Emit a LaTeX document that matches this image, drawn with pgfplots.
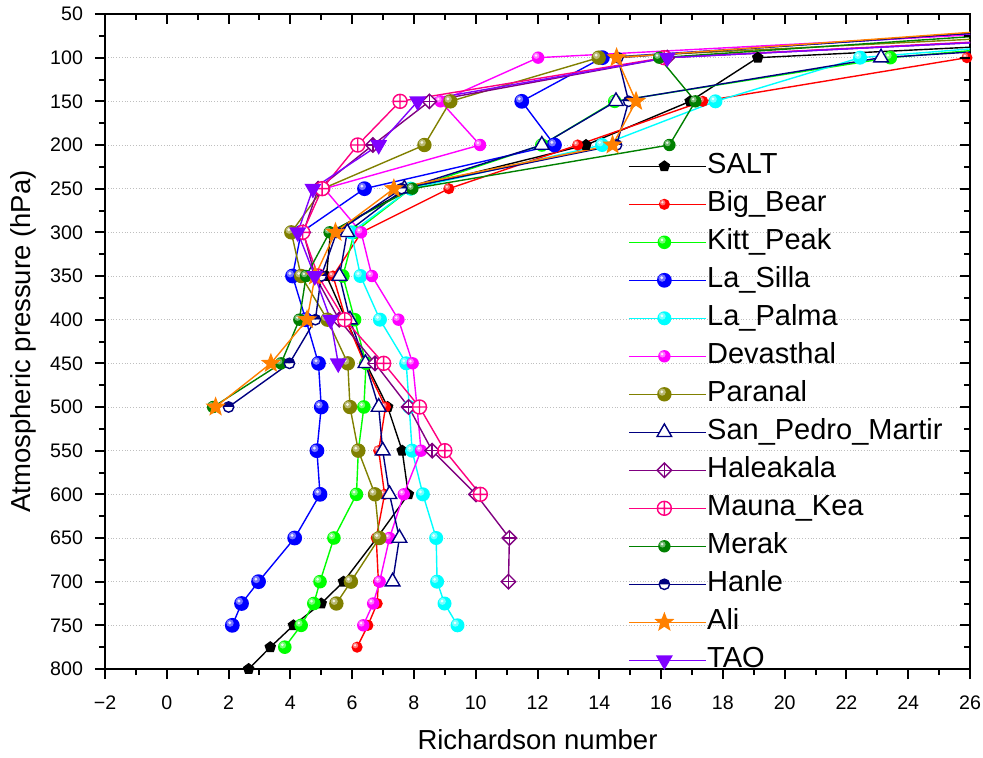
\documentclass[border=0pt]{standalone}
\usepackage{fontspec}
\setmainfont{Liberation Sans}
\usepackage{pgfplots}
\pgfplotsset{compat=1.18}
\usetikzlibrary{plotmarks}

\definecolor{cOlive}{HTML}{808000}
\definecolor{cNavy}{HTML}{000080}
\definecolor{cPurple}{HTML}{800080}
\definecolor{cPink}{HTML}{FF0080}
\definecolor{cDGreen}{HTML}{008000}
\definecolor{cOrange}{HTML}{FF8000}
\definecolor{cViolet}{HTML}{8000FF}
\definecolor{cGreen}{HTML}{00FF00}
\definecolor{cCyan}{HTML}{00FFFF}
\definecolor{cMag}{HTML}{FF00FF}

\pgfdeclareplotmark{fstar}{%
 \pgfpathmoveto{\pgfpointpolar{90}{\pgfplotmarksize}}%
 \pgfpathlineto{\pgfpointpolar{126}{0.42\pgfplotmarksize}}%
 \pgfpathlineto{\pgfpointpolar{162}{\pgfplotmarksize}}%
 \pgfpathlineto{\pgfpointpolar{198}{0.42\pgfplotmarksize}}%
 \pgfpathlineto{\pgfpointpolar{234}{\pgfplotmarksize}}%
 \pgfpathlineto{\pgfpointpolar{270}{0.42\pgfplotmarksize}}%
 \pgfpathlineto{\pgfpointpolar{306}{\pgfplotmarksize}}%
 \pgfpathlineto{\pgfpointpolar{342}{0.42\pgfplotmarksize}}%
 \pgfpathlineto{\pgfpointpolar{18}{\pgfplotmarksize}}%
 \pgfpathlineto{\pgfpointpolar{54}{0.42\pgfplotmarksize}}%
 \pgfpathclose\pgfusepathqfillstroke}

\pgfdeclareplotmark{dplus}{%
 \pgfpathmoveto{\pgfqpoint{0pt}{\pgfplotmarksize}}%
 \pgfpathlineto{\pgfqpoint{\pgfplotmarksize}{0pt}}%
 \pgfpathlineto{\pgfqpoint{0pt}{-\pgfplotmarksize}}%
 \pgfpathlineto{\pgfqpoint{-\pgfplotmarksize}{0pt}}%
 \pgfpathclose\pgfusepathqfillstroke
 \pgfpathmoveto{\pgfqpoint{0pt}{\pgfplotmarksize}}\pgfpathlineto{\pgfqpoint{0pt}{-\pgfplotmarksize}}%
 \pgfpathmoveto{\pgfqpoint{\pgfplotmarksize}{0pt}}\pgfpathlineto{\pgfqpoint{-\pgfplotmarksize}{0pt}}%
 \pgfusepathqstroke}

% glossy ball: filled circle with a white highlight
\pgfdeclareplotmark{gball}{%
 \pgfpathcircle{\pgfpointorigin}{\pgfplotmarksize}%
 \pgfusepathqfill
 \pgfscope
 \pgfsetfillcolor{white}\pgfsetfillopacity{0.45}%
 \pgfpathcircle{\pgfqpoint{-0.3\pgfplotmarksize}{0.3\pgfplotmarksize}}{0.5\pgfplotmarksize}%
 \pgfusepathqfill
 \pgfsetfillopacity{0.85}%
 \pgfpathcircle{\pgfqpoint{-0.35\pgfplotmarksize}{0.35\pgfplotmarksize}}{0.22\pgfplotmarksize}%
 \pgfusepathqfill
 \endpgfscope}

\begin{document}
\begin{tikzpicture}
\begin{axis}[name=ax,
  scale only axis, width=432.5pt, height=327.5pt,
  xmin=-2, xmax=26, ymin=50, ymax=800, y dir=reverse,
  xtick={-2,0,...,26},
  xticklabels={−2,0,2,4,6,8,10,12,14,16,18,20,22,24,26},
  ytick={50,100,...,800},
  minor x tick num=1, minor y tick num=1,
  tick align=outside,
  xtick pos=left, ytick pos=left,
  major tick length=5pt, minor tick length=3pt,
  every tick/.style={black, line width=1pt},
  axis line style={line width=1pt},
  ymajorgrids, major grid style={densely dotted, gray!50, line width=0.5pt},
  /pgf/number format/assume math mode=true,
  tick label style={font=\fontsize{9.8}{11}\selectfont},
  xticklabel style={yshift=-5pt},
  yticklabel style={xshift=-2.5pt},
  label style={font=\fontsize{13.75}{16}\selectfont},
  xlabel style={yshift=-3pt},
  xlabel={Richardson number},
  ylabel={Atmospheric pressure (hPa)},
  legend style={at={(0.6046,0.791)}, anchor=north west, draw=none, fill=none,
    inner sep=0pt, row sep=4pt, font=\fontsize{14.5}{17}\selectfont,
    nodes={text height=11pt, text depth=4pt, inner sep=0pt, outer sep=0pt}},
  legend cell align=left,
  legend image code/.code={\path (0cm,0cm) -- (1.36cm,0cm);\draw[mark repeat=2,mark phase=2,#1] plot coordinates {(0cm,0cm) (0.62cm,0cm) (1.24cm,0cm)};},
  every axis plot/.append style={line width=0.7pt},
]
% SALT
\addplot[color=black, mark=pentagon*, mark size=2.6pt] coordinates {
(47.8,50) (19.13,100) (16.94,150) (13.57,200) (7.85,250) (5.3,300) (5.17,350) (5.8,400) (6.45,450) (7.15,500) (7.62,550) (7.82,600) (6.8,650) (5.72,700) (5.0,725) (4.1,750) (3.35,775) (2.65,800)};
\addlegendentry{SALT}
% Big_Bear
\addplot[color=red, mark=gball, mark size=2.8pt, mark options={fill=red}] coordinates {
(60,50) (25.9,100) (17.35,150) (13.3,200) (9.13,250) (6.3,300) (5.38,350) (5.8,400) (6.4,450) (7.08,500) (6.86,550) (7.05,600) (6.78,650) (6.85,700) (6.81,725) (6.51,750) (6.16,775)};
\addlegendentry{Big\_Bear}
% Kitt_Peak
\addplot[color=cGreen, mark=gball, mark size=3.4pt, mark options={fill=cGreen}] coordinates {
(39.5,50) (23.42,100) (14.5,150) (12.14,200) (7.9,250) (6.07,300) (5.7,350) (6.08,400) (6.45,450) (6.38,500) (6.2,550) (6.14,600) (5.41,650) (4.96,700) (4.76,725) (4.35,750) (3.82,775)};
\addlegendentry{Kitt\_Peak}
% La_Silla
\addplot[color=blue, mark=gball, mark size=3.7pt, mark options={fill=blue}] coordinates {
(36.1,50) (14.1,100) (11.49,150) (12.55,200) (6.40,250) (4.35,300) (4.07,350) (4.5,400) (4.91,450) (5.0,500) (4.86,550) (4.96,600) (4.14,650) (2.97,700) (2.42,725) (2.12,750)};
\addlegendentry{La\_Silla}
% La_Palma
\addplot[color=cCyan, mark=gball, mark size=3.5pt, mark options={fill=cCyan}] coordinates {
(40.2,50) (22.44,100) (17.76,150) (14.09,200) (7.9,250) (5.97,300) (6.27,350) (6.9,400) (7.75,450) (7.85,500) (7.94,550) (8.29,600) (8.72,650) (8.75,700) (8.99,725) (9.41,750)};
\addlegendentry{La\_Palma}
% Devasthal
\addplot[color=cMag, mark=gball, mark size=3.1pt, mark options={fill=cMag}] coordinates {
(38.9,50) (12.02,100) (8.86,150) (10.14,200) (5.1,250) (6.29,300) (6.64,350) (7.5,400) (7.96,450) (8.1,500) (8.23,550) (7.67,600) (7.21,650) (6.89,700) (6.68,725) (6.36,750)};
\addlegendentry{Devasthal}
% Paranal
\addplot[color=cOlive, mark=gball, mark size=3.6pt, mark options={fill=cOlive}] coordinates {
(42.6,50) (13.98,100) (9.18,150) (8.34,200) (5.05,250) (4.03,300) (4.35,350) (5.2,400) (5.86,450) (5.93,500) (6.2,550) (6.74,600) (6.88,650) (5.96,700) (5.49,725)};
\addlegendentry{Paranal}
% San_Pedro_Martir
\addplot[color=cNavy, mark=triangle*, mark size=4.2pt, mark options={fill=white}] coordinates {
(45.6,50) (23.12,100) (14.54,150) (12.14,200) (7.69,250) (5.84,300) (5.59,350) (5.93,400) (6.43,450) (6.86,500) (6.99,550) (7.21,600) (7.53,650) (7.31,700)};
\addlegendentry{San\_Pedro\_Martir}
% Haleakala
\addplot[color=cPurple, mark=dplus, mark size=3.6pt, mark options={fill=white}] coordinates {
(45,50) (16.2,100) (8.5,150) (6.67,200) (4.9,250) (4.42,300) (4.8,350) (5.58,400) (6.74,450) (7.83,500) (8.59,550) (10.01,600) (11.09,650) (11.06,700)};
\addlegendentry{Haleakala}
% Mauna_Kea
\addplot[color=cPink, mark=oplus*, mark size=3.5pt, mark options={fill=white}] coordinates {
(44,50) (16.1,100) (7.55,150) (6.18,200) (5.03,250) (4.4,300) (4.9,350) (5.76,400) (7.02,450) (8.18,500) (9.0,550) (10.15,600)};
\addlegendentry{Mauna\_Kea}
% Merak
\addplot[color=cDGreen, mark=gball, mark size=3.1pt, mark options={fill=cDGreen}] coordinates {
(36.9,50) (15.94,100) (17.11,150) (16.27,200) (7.95,250) (5.27,300) (4.51,350) (4.29,400) (3.70,450) (1.5,500)};
\addlegendentry{Merak}
% Hanle
\addplot[color=cNavy, mark=halfcircle*, mark size=2.6pt, mark options={fill=cNavy}] coordinates {
(35,50) (14.6,100) (14.95,150) (14.56,200) (7.6,250) (5.5,300) (5.0,350) (4.81,400) (3.97,450) (2.0,500)};
\addlegendentry{Hanle}
% Ali
\addplot[color=cOrange, mark=fstar, mark size=4.3pt, mark options={fill=cOrange}] coordinates {
(34.3,50) (14.56,100) (15.19,150) (14.43,200) (7.35,250) (5.46,300) (4.8,350) (4.54,400) (3.37,450) (1.58,500)};
\addlegendentry{Ali}
% TAO
\addplot[color=cViolet, mark=triangle*, mark size=4.2pt, mark options={fill=cViolet, rotate=180}] coordinates {
(45,50) (16.2,100) (8.12,150) (6.86,200) (4.73,250) (4.24,300) (4.79,350) (5.3,400) (5.55,450)};
\addlegendentry{TAO}
\end{axis}
\begin{axis}[
  scale only axis, width=432.5pt, height=327.5pt,
  xmin=-2, xmax=26, ymin=50, ymax=800, y dir=reverse,
  xtick={-2,0,...,26}, ytick={50,100,...,800},
  minor x tick num=1, minor y tick num=1,
  tick align=inside, xtick pos=right, ytick pos=right,
  major tick length=5pt, minor tick length=3pt,
  every tick/.style={black, line width=1pt},
  axis line style={draw=none},
  xticklabels={}, yticklabels={},
]
\end{axis}
\pgfresetboundingbox
\path (ax.south west) ++(-52.5pt,-44.5pt) rectangle ++(491.5pt,379pt);
\end{tikzpicture}
\end{document}
